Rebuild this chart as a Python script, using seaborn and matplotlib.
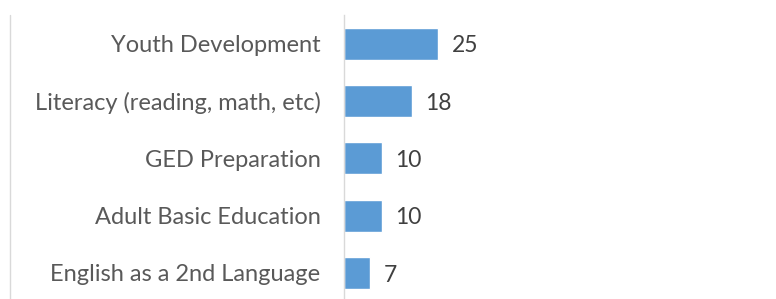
import matplotlib.pyplot as plt
import seaborn as sns
import pandas as pd
from matplotlib.lines import Line2D

programs = ['Youth Development', 'Literacy (reading, math, etc)', 'GED Preparation',
            'Adult Basic Education', 'English as a 2nd Language']
counts = [25, 18, 10, 10, 7]

sns.set_theme(style='white')
plt.rcParams['font.family'] = ['Lato', 'DejaVu Sans']

df = pd.DataFrame({'program': programs, 'count': counts})

fig = plt.figure(figsize=(7.76, 2.99), dpi=100)
ax = fig.add_axes([344 / 776, 0.0, 1 - 344 / 776, 1 - 15 / 299])

sns.barplot(data=df, x='count', y='program', color='#5b9bd5', saturation=1,
            width=0.56, ax=ax)

ax.set_xlim(0, 432 / 3.76)
ax.set_ylim(4.455, -0.5)
ax.set_xlabel('')
ax.set_ylabel('')
ax.set_xticks([])
ax.tick_params(axis='y', length=0, pad=17, labelsize=17, labelcolor='#595959')

for s in ['top', 'right', 'bottom']:
    ax.spines[s].set_visible(False)
ax.spines['left'].set_color('#d9d9d9')
ax.spines['left'].set_linewidth(1)

for i, v in enumerate(counts):
    ax.text(v + 3.6, i + 0.04, str(v), va='center', ha='left', fontsize=16.5, color='#404040')

# outer chart border on the left
fig.add_artist(Line2D([10 / 776, 10 / 776], [0, 1 - 15 / 299], transform=fig.transFigure,
                      color='#d9d9d9', linewidth=1))

fig.savefig('out.png', dpi=100)
